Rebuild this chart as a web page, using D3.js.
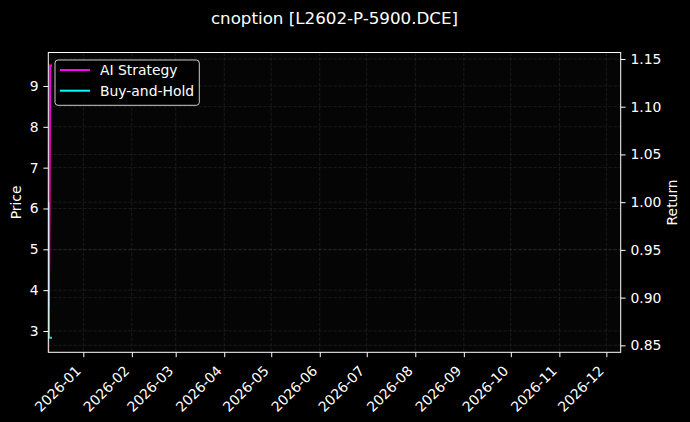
<!DOCTYPE html>
<html>
<head>
<meta charset="utf-8">
<script src="https://cdn.jsdelivr.net/npm/d3@7"></script>
<style>
  body { margin: 0; background: #000; }
  text { font-family: "DejaVu Sans", sans-serif; }
</style>
</head>
<body>
<script>
/* data */
var dates = ["2025-12-09T18:00", "2025-12-10T00:00", "2025-12-10T20:00", "2025-12-12T00:00"];
var price = [2.40, 2.83, 9.52, 9.52];
var aiStrategy = [1.0, 0.89, 1.143, 1.143];
var buyHold = [1.0, 0.858, 0.858, 0.858];
var priceTicks = [3, 4, 5, 6, 7, 8, 9];
var returnTicks = [0.85, 0.90, 0.95, 1.00, 1.05, 1.10, 1.15];
var monthTicks = ["2026-01", "2026-02", "2026-03", "2026-04", "2026-05", "2026-06",
                  "2026-07", "2026-08", "2026-09", "2026-10", "2026-11", "2026-12"];
var xRange = ["2025-12-09T15:30", "2026-12-10T04:00"];
var priceRange = [2.478, 9.82];
var returnRange = [0.8427, 1.1568];

var width = 690, height = 422;
var mLeft = 48.3, mRight = 620.7, mTop = 52.5, mBottom = 352.3;
var fg = "#ffffff", fs = 13.9;

var parse = d3.isoParse;
var svg = d3.select("body").append("svg")
    .attr("width", width)
    .attr("height", height)
    .style("background", "#000");

var x = d3.scaleTime().domain(xRange.map(parse)).range([mLeft, mRight]);
var yP = d3.scaleLinear().domain(priceRange).range([mBottom, mTop]);
var yR = d3.scaleLinear().domain(returnRange).range([mBottom, mTop]);

svg.append("clipPath").attr("id", "plot")
    .append("rect")
    .attr("x", mLeft).attr("y", mTop)
    .attr("width", mRight - mLeft).attr("height", mBottom - mTop);

/* plot background */
svg.append("rect")
    .attr("x", mLeft).attr("y", mTop)
    .attr("width", mRight - mLeft).attr("height", mBottom - mTop)
    .attr("fill", "#050505");

/* grid */
var grid = svg.append("g")
    .attr("stroke", "#808080")
    .attr("stroke-opacity", 0.35)
    .attr("stroke-width", 0.5)
    .attr("stroke-dasharray", "3.5,1.5");
grid.selectAll(".gx").data(monthTicks).enter().append("line")
    .attr("x1", function(d) { return x(parse(d + "-01")); })
    .attr("x2", function(d) { return x(parse(d + "-01")); })
    .attr("y1", mTop).attr("y2", mBottom);
grid.selectAll(".gp").data(priceTicks).enter().append("line")
    .attr("x1", mLeft).attr("x2", mRight)
    .attr("y1", function(d) { return yP(d); })
    .attr("y2", function(d) { return yP(d); });
grid.selectAll(".gr").data(returnTicks).enter().append("line")
    .attr("x1", mLeft).attr("x2", mRight)
    .attr("y1", function(d) { return yR(d); })
    .attr("y2", function(d) { return yR(d); });

/* lines */
var plot = svg.append("g").attr("clip-path", "url(#plot)");
var idx = d3.range(dates.length);

var priceLine = d3.line()
    .x(function(i) { return x(parse(dates[i])); })
    .y(function(i) { return yP(price[i]); });
plot.append("path").datum(idx)
    .attr("d", priceLine)
    .attr("fill", "none")
    .attr("stroke", "red")
    .attr("stroke-opacity", 0.6)
    .attr("stroke-width", 2);

function retLine(vals) {
    return d3.line()
        .x(function(i) { return x(parse(dates[i])); })
        .y(function(i) { return yR(vals[i]); });
}
plot.append("path").datum(idx)
    .attr("d", retLine(aiStrategy))
    .attr("fill", "none")
    .attr("stroke", "#ff00ff")
    .attr("stroke-opacity", 0.9)
    .attr("stroke-width", 2);
plot.append("path").datum(idx)
    .attr("d", retLine(buyHold))
    .attr("fill", "none")
    .attr("stroke", "#00ffff")
    .attr("stroke-opacity", 0.9)
    .attr("stroke-width", 2);

/* axes */
var xAxis = svg.append("g")
    .attr("transform", "translate(0," + mBottom + ")")
    .call(d3.axisBottom(x)
        .tickValues(monthTicks.map(function(d) { return parse(d + "-01"); }))
        .tickFormat(d3.timeFormat("%Y-%m"))
        .tickSize(4.9).tickPadding(3));
xAxis.selectAll("text")
    .attr("x", 0).attr("y", 0)
    .attr("text-anchor", "end")
    .attr("dy", "0.35em")
    .attr("transform", "translate(-5.5,16) rotate(-45)");

var yAxisL = svg.append("g")
    .attr("transform", "translate(" + mLeft + ",0)")
    .call(d3.axisLeft(yP).tickValues(priceTicks).tickFormat(d3.format("d"))
        .tickSize(4.9).tickPadding(4.9));

var yAxisR = svg.append("g")
    .attr("transform", "translate(" + mRight + ",0)")
    .call(d3.axisRight(yR).tickValues(returnTicks).tickFormat(d3.format(".2f"))
        .tickSize(4.9).tickPadding(4.9));

[xAxis, yAxisL, yAxisR].forEach(function(a) {
    a.select(".domain").remove();
    a.selectAll("line").attr("stroke", fg).attr("stroke-width", 1);
    a.selectAll("text").attr("fill", fg).style("font-size", fs + "px");
});

/* frame */
svg.append("rect")
    .attr("x", mLeft).attr("y", mTop)
    .attr("width", mRight - mLeft).attr("height", mBottom - mTop)
    .attr("fill", "none")
    .attr("stroke", fg)
    .attr("stroke-width", 1);

/* labels */
svg.append("text")
    .attr("transform", "translate(21," + ((mTop + mBottom) / 2) + ") rotate(-90)")
    .attr("text-anchor", "middle")
    .attr("fill", fg)
    .style("font-size", fs + "px")
    .text("Price");
svg.append("text")
    .attr("transform", "translate(677," + ((mTop + mBottom) / 2) + ") rotate(-90)")
    .attr("text-anchor", "middle")
    .attr("fill", fg)
    .style("font-size", fs + "px")
    .text("Return");
svg.append("text")
    .attr("x", (mLeft + mRight) / 2)
    .attr("y", 24)
    .attr("text-anchor", "middle")
    .attr("fill", fg)
    .style("font-size", "16.7px")
    .text("cnoption [L2602-P-5900.DCE]");

/* legend */
var legendItems = [["AI Strategy", "#ff00ff"], ["Buy-and-Hold", "#00ffff"]];
var legend = svg.append("g");
legend.append("rect")
    .attr("x", 55).attr("y", 60)
    .attr("width", 144.3).attr("height", 45.3)
    .attr("rx", 3)
    .attr("fill", "#000")
    .attr("fill-opacity", 0.8)
    .attr("stroke", "#cccccc")
    .attr("stroke-width", 1);
legend.selectAll(".item").data(legendItems).enter().append("line")
    .attr("x1", 60).attr("x2", 90)
    .attr("y1", function(d, i) { return 70 + i * 20.7; })
    .attr("y2", function(d, i) { return 70 + i * 20.7; })
    .attr("stroke", function(d) { return d[1]; })
    .attr("stroke-width", 2);
legend.selectAll(".label").data(legendItems).enter().append("text")
    .attr("x", 100)
    .attr("y", function(d, i) { return 70 + i * 20.7; })
    .attr("dy", "0.35em")
    .attr("fill", fg)
    .style("font-size", fs + "px")
    .text(function(d) { return d[0]; });
</script>
</body>
</html>
